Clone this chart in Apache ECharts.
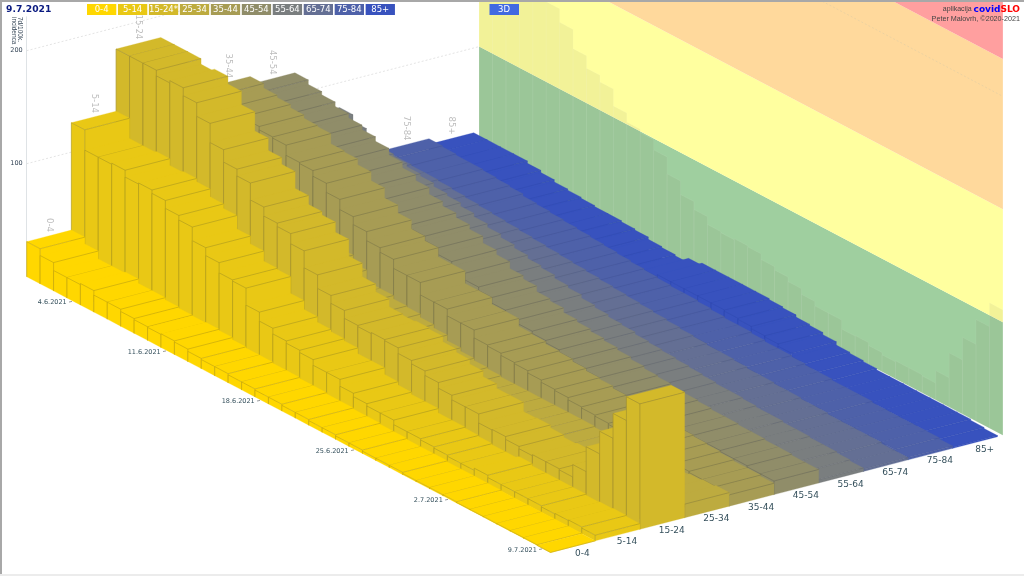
<!DOCTYPE html>
<html><head><meta charset="utf-8">
<style>html,body{margin:0;padding:0;background:#fff}#c{width:1024px;height:576px}</style>
<script src="https://cdn.jsdelivr.net/npm/echarts@6/dist/echarts.min.js"></script>
</head><body><div id="c"></div>
<script>
const ageGroups=['0-4','5-14','15-24','25-34','35-44','45-54','55-64','65-74','75-84','85+'];
const legendLabels=['0-4','5-14','15-24*','25-34','35-44','45-54','55-64','65-74','75-84','85+'];
const wallLabels=['0-4','5-14','15-24','35-44','45-54','75-84','85+'];
const dateTicks=[[3,'4.6.2021'],[10,'11.6.2021'],[17,'18.6.2021'],[24,'25.6.2021'],[31,'2.7.2021'],[38,'9.7.2021']];
const age0=[31,25,18,18,19,15,15,13,12,11.5,12,11,9,8,8,7,7,6,6,5,5,4,4,3,3,2,2,2,1,1,1,1,.5,.5,.5,.5,.5,.5,0];
const age5=[126,108,108,109,103,104,101,94,90,78,71,62,61,46,38,33,31,29,24,24,18,15,13,13,9,9,8,7,6,6,8,6,6,6,6,5,5.5,6,5];
const age15=[181,181,181,176,178,171,159,142,131,125,110,102,99,90,75,63,56,49,48,49,48,43,40,36,31,27,27,19,19.5,17,15,16,16,15,26,48,68,90,111];
const age25=[100,95,92,88,82,78,72,66,60,52,47,40,30,30,27,26,23,20,15,12,10,9,8,8,8,8,8,8,8,7,7,7,7,8,8,9,10,11,12];
const age35=[126,122,120,117,114,113,104,103,98,90,81,74,66,62,54,54,43,43,37,37,30,29,27,26,24,22,21,19,18,17,16,15,15,14,13,12,11,11,10];
const age45=[119,115,112,108,104,100,96,90,85,80,74,70,66,62,56,52,46,43,38,36,32,30,28,26,24,22,20,19,18,17,16,15,15,14,14,13,13,12,12];
const age55=[78,72,64,62,60,57,55,52,50,47,44,41,38,35,32,30,27,25,22,20,18,17,15,14,13,12,11,10,9,9,8,7,7,6,6,5,5,4,3];
const age65=[30,30,29,29,28,27,26,25,24,23,22,21,20,19,18,17,16,15,14,13,12,11,10,9,8,8,7,6,6,5,5,4,4,3,3,3,3,2,2];
const age75=[30,29,28,28,27,26,25,23,22,21,20,19,18,17,16,15,14,13,12,12,11,10,9,9,8,7,7,6,5,5,4,4,4,3,3,3,3,3,2];
const age85=[25,25,25,25,23,21,19,18,17,16,16,15,14,12,11,10,14,16,16,16,16,16,15,14,12,11,9,6,5,4,3,3,3,3,3,3,3,2,1];
const rows=[age0,age5,age15,age25,age35,age45,age55,age65,age75,age85];
const zoneEdges=[0,100,200,333,640];
const wallGrid=[300];
const sideGrid=[100,200];

const rowColors=['rgb(255,215,0)','rgb(233,200,21)','rgb(211,185,42)','rgb(189,171,63)','rgb(167,156,84)','rgb(144,141,105)','rgb(122,126,127)','rgb(100,111,148)','rgb(78,97,169)','rgb(56,82,190)'];
const edgeColors=['rgba(175,150,20,.75)','rgba(160,145,35,.8)','rgba(150,135,50,.8)','rgba(130,122,60,.75)','rgba(115,110,70,.75)','rgba(100,100,85,.7)','rgba(90,95,105,.6)','rgba(78,88,120,.55)','rgba(62,78,140,.5)','rgba(45,68,165,.45)'];
const zoneColors=['#9fcf9f','#ffff9f','#ffd99c','#ff9f9f'];
const DAYS=39, WALL_A=10.12, SK={ax:44.7,ay:-11.57,dy:7.07};
const MONO='"DejaVu Sans"';

function P(api,d,a,v){const c=api.coord([d,v]);return [c[0]+SK.ax*a,c[1]+SK.dy*d+SK.ay*a];}
const barData=[];
for(let a=9;a>=0;a--)for(let d=0;d<DAYS;d++)barData.push([d,rows[a][d],a]);

function renderBar(p,api){
  const d=api.value(0),v=api.value(1),a=api.value(2);
  const fill=rowColors[a],st={fill,stroke:fill,lineWidth:.3};
  const ln={stroke:edgeColors[a],lineWidth:.65};
  const f0=P(api,d,a,0),f1=P(api,d+1,a,0),f2=P(api,d+1,a+1,0);
  const t0=P(api,d,a,v),t1=P(api,d+1,a,v),t2=P(api,d+1,a+1,v),t3=P(api,d,a+1,v);
  const seg=(u,w)=>({type:'line',shape:{x1:u[0],y1:u[1],x2:w[0],y2:w[1]},style:ln});
  return {type:'group',children:[
    {type:'polygon',shape:{points:[f0,f1,t1,t0]},style:st},
    {type:'polygon',shape:{points:[f1,f2,t2,t1]},style:st},
    {type:'polygon',shape:{points:[t0,t1,t2,t3]},style:st},
    seg(t1,t2),seg(f1,t1),seg(f0,t0),seg(t0,t1)
  ]};
}
const graphics=[];
legendLabels.forEach((t,i)=>{
  const x=87+i*30.96;
  graphics.push({type:'rect',z:100,shape:{x,y:4,width:29.3,height:11},style:{fill:rowColors[i]}});
  graphics.push({type:'text',z:101,x:x+14.6,y:9.8,style:{text:t,font:'8.5px '+MONO,fill:'#fff',align:'center',verticalAlign:'middle'}});
});
graphics.push({type:'rect',z:100,shape:{x:489.5,y:4,width:29.5,height:11},style:{fill:'#4169e1'}});
graphics.push({type:'text',z:101,x:504,y:9.8,style:{text:'3D',font:'8.5px '+MONO,fill:'#fff',align:'center',verticalAlign:'middle'}});
graphics.push({type:'rect',z:99,shape:{x:0,y:0,width:1024,height:2},style:{fill:'#a8a8a8'}});
graphics.push({type:'rect',z:99,shape:{x:0,y:0,width:2,height:576},style:{fill:'#a8a8a8'}});
graphics.push({type:'rect',z:99,shape:{x:0,y:574,width:1024,height:2},style:{fill:'#ececec'}});
graphics.push({type:'text',z:101,x:6,y:9.5,style:{text:'9.7.2021',font:'bold 9.2px '+MONO,fill:'#0a1a80',align:'left',verticalAlign:'middle'}});
graphics.push({type:'text',z:101,x:20,y:17,rotation:-Math.PI/2,style:{text:'7d/100k.',font:'6.5px "Liberation Sans"',fill:'#345',align:'left',verticalAlign:'middle'}});
graphics.push({type:'text',z:101,x:14,y:17,rotation:-Math.PI/2,style:{text:'incidenca',font:'6.5px "Liberation Sans"',fill:'#345',align:'left',verticalAlign:'middle'}});
graphics.push({type:'text',z:101,x:1020,y:9.5,style:{
  rich:{a:{font:'7px "Liberation Sans"',fill:'#444'},b:{font:'bold 9px '+MONO,fill:'#0000ff'},c:{font:'bold 9px '+MONO,fill:'#ff0000'}},
  text:'{a|aplikacija }{b|covid}{c|SLO}',align:'right',verticalAlign:'middle'}});
graphics.push({type:'text',z:101,x:1020,y:19,style:{text:'Peter Malovrh, ©2020-2021',font:'7.2px "Liberation Sans"',fill:'#444',align:'right',verticalAlign:'middle'}});

const chart=echarts.init(document.getElementById('c'),null,{renderer:'canvas'});
chart.setOption({
  animation:false,backgroundColor:'#fff',
  graphic:{elements:graphics},
  grid:{left:26.7,width:523.8,top:16.8,height:259.9},
  xAxis:{type:'value',min:0,max:DAYS,show:false},
  yAxis:{type:'value',min:0,max:230,interval:100,
    axisLine:{show:true,lineStyle:{color:'#dfe3e6',width:1}},offset:1,
    axisTick:{show:false},splitLine:{show:false},
    axisLabel:{margin:3,fontSize:6.5,color:'#345',fontFamily:MONO,formatter:v=>(v===100||v===200)?String(v):''}},
  series:[
    {type:'custom',z:1,silent:true,data:zoneColors.map((c,i)=>[i,0]),encode:{x:0,y:1},
      renderItem:(p,api)=>{const i=api.value(0);
        return {type:'polygon',shape:{points:[P(api,0,WALL_A,zoneEdges[i]),P(api,DAYS,WALL_A,zoneEdges[i]),P(api,DAYS,WALL_A,zoneEdges[i+1]),P(api,0,WALL_A,zoneEdges[i+1])]},style:{fill:zoneColors[i]}};}},
    {type:'custom',z:2,silent:true,data:age15.map((v,d)=>[d,v]),encode:{x:0,y:1},
      renderItem:(p,api)=>{const d=api.value(0),v=api.value(1);
        return {type:'polygon',shape:{points:[P(api,d,WALL_A,0),P(api,d+1,WALL_A,0),P(api,d+1,WALL_A,v),P(api,d,WALL_A,v)]},style:{fill:'rgba(125,125,95,0.1)',stroke:'rgba(255,255,255,0.1)',lineWidth:.6}};}},
    {type:'custom',z:3,silent:true,data:sideGrid.map(v=>[0,v]),encode:{x:0,y:1},
      renderItem:(p,api)=>{const v=api.value(1),a=P(api,0,0,v),b=P(api,0,WALL_A,v);
        return {type:'line',shape:{x1:a[0],y1:a[1],x2:b[0],y2:b[1]},style:{stroke:'#d8d8d8',lineWidth:.7,lineDash:[2,2]}};}},
    {type:'custom',z:3,silent:true,data:wallGrid.map(v=>[0,v]),encode:{x:0,y:1},
      renderItem:(p,api)=>{const v=api.value(1),a=P(api,0,WALL_A,v),b=P(api,DAYS,WALL_A,v);
        return {type:'line',shape:{x1:a[0],y1:a[1],x2:b[0],y2:b[1]},style:{stroke:'rgba(190,190,170,.6)',lineWidth:.5,lineDash:[2,2]}};}},
    {type:'custom',z:4,silent:true,data:rows.map((r,a)=>[a,r[0]]).filter(x=>wallLabels.includes(ageGroups[x[0]])),encode:{x:0,y:1},
      renderItem:(p,api)=>{const a=api.value(0),q=P(api,0,a+.5,api.value(1));
        return {type:'text',x:q[0],y:q[1]-4,rotation:-Math.PI/2,style:{text:ageGroups[a],font:'8.5px '+MONO,fill:'#bdbdbd',align:'right',verticalAlign:'middle'}};}},
    {type:'custom',z:5,silent:true,progressive:0,data:barData,encode:{x:0,y:1},renderItem:renderBar},
    {type:'custom',z:6,silent:true,data:ageGroups.map((t,a)=>[a,0]),encode:{x:0,y:1},
      renderItem:(p,api)=>{const a=api.value(0),q=P(api,DAYS,a+.5,0);
        return {type:'text',x:q[0]+9.5,y:q[1]+7,style:{text:ageGroups[a],font:'9px '+MONO,fill:'#35505c',align:'center',verticalAlign:'middle'}};}},
    {type:'custom',z:6,silent:true,data:dateTicks.map(t=>[t[0],0]),encode:{x:0,y:1},
      renderItem:(p,api)=>{const i=p.dataIndex,q=P(api,api.value(0)+.5,0,0);
        return {type:'group',children:[
          {type:'line',shape:{x1:q[0]-4.7,y1:q[1]+.6,x2:q[0]-1.7,y2:q[1]},style:{stroke:'#555',lineWidth:.6}},
          {type:'text',x:q[0]-7,y:q[1]+1,style:{text:dateTicks[i][1],font:'6.5px '+MONO,fill:'#35505c',align:'right',verticalAlign:'middle'}}
        ]};}}
  ]
});
</script></body></html>
